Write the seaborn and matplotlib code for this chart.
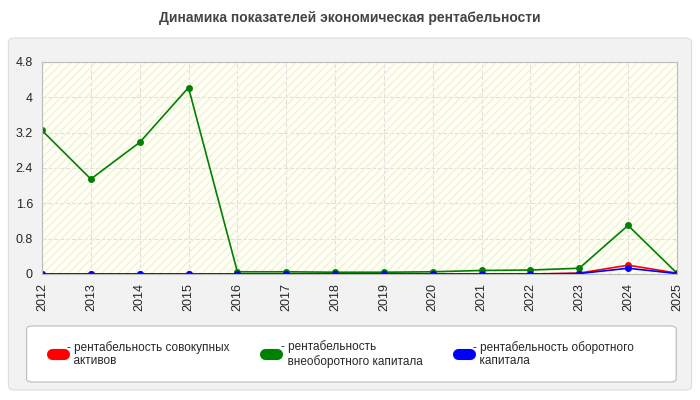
import matplotlib
matplotlib.use("Agg")
import matplotlib.pyplot as plt
import seaborn as sns
import pandas as pd
from matplotlib.patches import FancyBboxPatch
from matplotlib.lines import Line2D

years = list(range(2012, 2026))
total_assets = [0, 0, 0, 0, 0, 0, 0, 0, 0, 0, 0, 0.02, 0.20, 0.02]
fixed_capital = [3.25, 2.15, 2.98, 4.22, 0.05, 0.05, 0.04, 0.04, 0.05, 0.08, 0.09, 0.13, 1.10, 0.02]
working_capital = [0, 0, 0, 0, 0, 0, 0, 0, 0, 0, 0, 0.01, 0.13, 0.01]
labels = ["- рентабельность совокупных\n  активов",
          "- рентабельность\n  внеоборотного капитала",
          "- рентабельность оборотного\n  капитала"]
colors = ["red", "green", "blue"]
yticks = [0, 0.8, 1.6, 2.4, 3.2, 4, 4.8]

df = pd.DataFrame({"year": years * 3,
                   "value": total_assets + fixed_capital + working_capital,
                   "series": [labels[0]] * 14 + [labels[1]] * 14 + [labels[2]] * 14})

sns.set_style("white")
plt.rcParams["font.family"] = ["Liberation Sans", "DejaVu Sans"]
fig = plt.figure(figsize=(7, 4), dpi=100)
bg = FancyBboxPatch((0.012, 0.025), 0.976, 0.88, boxstyle="round,pad=0,rounding_size=0.01",
                    transform=fig.transFigure, fc="#f2f2f2", ec="#dddddd", lw=0.8, zorder=-10)
box = FancyBboxPatch((0.038, 0.045), 0.928, 0.14, boxstyle="round,pad=0,rounding_size=0.008",
                     transform=fig.transFigure, fc="white", ec="#bbbbbb", lw=0.8, zorder=-9)
fig.patches.extend([bg, box])
fig.text(0.5, 0.945, "Динамика показателей экономическая рентабельности", ha="center",
         fontsize=10, fontweight="bold", color="#444444")

ax = fig.add_axes([0.06, 0.315, 0.907, 0.53])
ax.set_zorder(5)
ax.set_facecolor("#fffff2")
ax.fill_between([2012, 2025], 0, 4.8, facecolor="none", hatch="////", edgecolor="#f0f0e0", lw=0)
for lab, c in zip(labels, colors):
    sub = df[df.series == lab]
    sns.lineplot(data=sub, x="year", y="value", color=c, marker="o", markersize=5,
                 markeredgewidth=0, lw=1.2, ax=ax, legend=False)
ax.set_xlim(2012, 2025)
ax.set_ylim(0, 4.8)
ax.set_xticks(years)
ax.set_xticklabels([str(y) for y in years], rotation=90, fontsize=9)
ax.set_yticks(yticks)
ax.set_yticklabels(["0", "0.8", "1.6", "2.4", "3.2", "4", "4.8"], fontsize=9)
ax.grid(True, ls="--", color="#dddddd", lw=0.8)
ax.set_xlabel("")
ax.set_ylabel("")
for s in ax.spines.values():
    s.set_color("#bbbbbb")
ax.tick_params(length=3, color="#888888")
handles = [Line2D([], [], color=c, lw=8, solid_capstyle="round") for c in colors]
leg = fig.legend(handles, labels, loc="center", bbox_to_anchor=(0.49, 0.115), ncol=3, frameon=False,
                 fontsize=8.5, handlelength=1.0, columnspacing=3, handletextpad=0.3)
leg.set_zorder(6)
fig.savefig("out.png", dpi=100, facecolor="white")
